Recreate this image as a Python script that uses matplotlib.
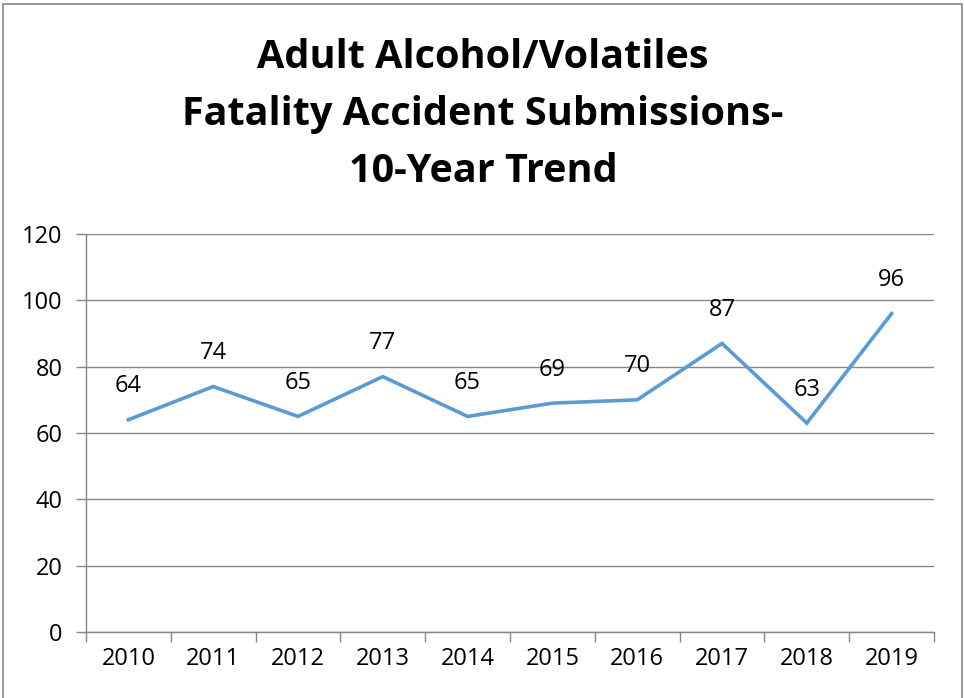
import matplotlib
matplotlib.use("Agg")
import matplotlib.pyplot as plt
from matplotlib.patches import Rectangle

# data
years = ["2010", "2011", "2012", "2013", "2014", "2015", "2016", "2017", "2018", "2019"]
submissions = [64, 74, 65, 77, 65, 69, 70, 87, 63, 96]
y_ticks = [0, 20, 40, 60, 80, 100, 120]
title_lines = ["Adult Alcohol/Volatiles", "Fatality Accident Submissions-", "10-Year Trend"]

LINE = "#5B9BD5"
GRID = "#868686"
W, H = 964, 698

plt.rcParams["font.family"] = ["Open Sans", "DejaVu Sans"]

fig = plt.figure(figsize=(W / 100, H / 100), dpi=100)
ax = fig.add_axes([86 / W, 1 - 632 / H, (934 - 86) / W, (632 - 234) / H])

# outer chart border (Excel style), runs off the bottom edge
fig.patches.append(Rectangle((3 / W, -0.05), 959 / W, 1.05 - 4 / H, transform=fig.transFigure,
                             fill=False, edgecolor=GRID, lw=1.2))

x = [i + 0.5 for i in range(len(years))]
ax.plot(x, submissions, color=LINE, lw=2.6, solid_joinstyle="miter")
for xi, v in zip(x, submissions):
    ax.annotate(str(v), (xi, v), xytext=(0, 24), textcoords="offset points",
                ha="center", va="center", fontsize=17)

ax.set_xlim(0, len(years))
ax.set_ylim(0, 120)
ax.set_yticks(y_ticks)
ax.set_yticklabels([str(t) for t in y_ticks], fontsize=17)
ax.set_xticks(range(len(years) + 1))
ax.set_xticklabels([])
ax.set_xticks(x, minor=True)
ax.set_xticklabels(years, minor=True, fontsize=17)
ax.tick_params(axis="x", which="major", length=7, color=GRID, width=1)
ax.tick_params(axis="x", which="minor", length=0, pad=11)
ax.tick_params(axis="y", length=7, color=GRID, width=1, pad=10)
ax.grid(axis="y", color=GRID, lw=1)
ax.set_axisbelow(True)
for s in ("top", "right"):
    ax.spines[s].set_visible(False)
for s in ("left", "bottom"):
    ax.spines[s].set_color(GRID)
    ax.spines[s].set_linewidth(1)

for i, line in enumerate(title_lines):
    fig.text(483 / W, 1 - (57 + 57.5 * i) / H, line, ha="center", va="center",
             fontsize=28.5, fontweight="bold")

fig.savefig("out.png", dpi=100)
